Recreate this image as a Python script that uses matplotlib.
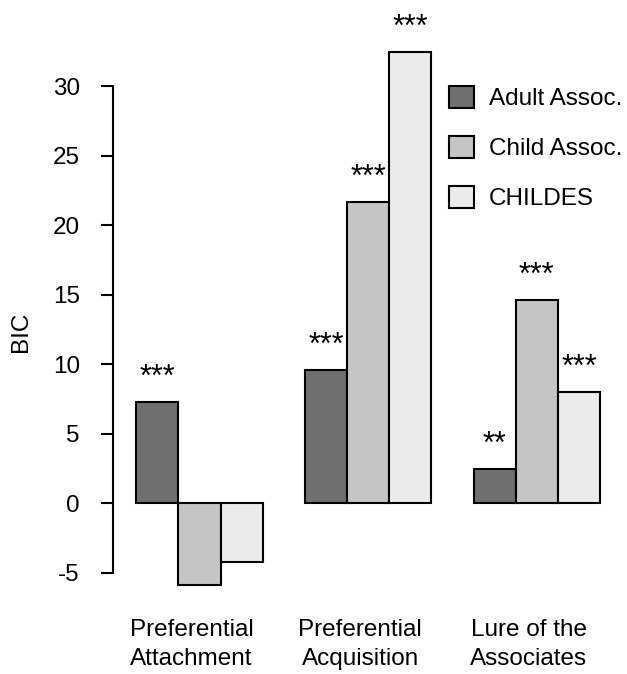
import matplotlib
matplotlib.use("Agg")
import matplotlib.pyplot as plt
import matplotlib.transforms as mtransforms

plt.rcParams['font.family'] = ['Liberation Sans', 'DejaVu Sans']

# data
groups = ["Preferential\nAttachment", "Preferential\nAcquisition", "Lure of the\nAssociates"]
series = ["Adult Assoc.", "Child Assoc.", "CHILDES"]
adult = [7.3, 9.6, 2.5]
child = [-5.85, 21.65, 14.6]
childes = [-4.2, 32.5, 8.0]
stars_adult = ["***", "***", "**"]
stars_child = ["", "***", "***"]
stars_childes = ["", "***", "***"]
yticks = [-5, 0, 5, 10, 15, 20, 25, 30]

colors = ["#6f6f6f", "#c4c5c4", "#ebebeb"]
FS = 17.5

W, H = 627, 674
fig = plt.figure(figsize=(W / 100, H / 100), dpi=100)

def fx(px):
    return px / W

def fy(py):
    return 1 - py / H

# axes placement in pixels
ax_left, ax_right = 113.3, 620.0
ylo, yhi = -7.0, 34.5
zero_px, per_unit = 503.3, 13.9
top_px = zero_px - yhi * per_unit
bot_px = zero_px - ylo * per_unit
ax = fig.add_axes([fx(ax_left), fy(bot_px), fx(ax_right - ax_left), (bot_px - top_px) / H])

unit_px = 42.15
x1_px = 136.3
xlo = 1 - (x1_px - ax_left) / unit_px
xhi = 1 + (ax_right - x1_px) / unit_px
ax.set_xlim(xlo, xhi)
ax.set_ylim(ylo, yhi)

vals = [adult, child, childes]
stars = [stars_adult, stars_child, stars_childes]
for s in range(3):
    lefts = [1 + 4 * g + s for g in range(3)]
    ax.bar(lefts, vals[s], width=1.0, align='edge', color=colors[s],
           edgecolor='black', linewidth=1.5, label=series[s], zorder=2)
    for g in range(3):
        if stars[s][g]:
            ax.annotate(stars[s][g], xy=(lefts[g] + 0.5, vals[s][g]),
                        xytext=(0, 11.5), textcoords='offset points',
                        ha='center', va='baseline', fontsize=22)

# group labels below the plot
lab_tr = mtransforms.blended_transform_factory(ax.transData, fig.transFigure)
for g, name in enumerate(groups):
    ax.text(1 + 4 * g + 1.31, fy(619.5), name, transform=lab_tr,
            ha='center', va='top', fontsize=FS, linespacing=1.36, clip_on=False)

for sp in ["top", "right", "bottom"]:
    ax.spines[sp].set_visible(False)
ax.spines["left"].set_bounds(-5, 30)
ax.spines["left"].set_linewidth(1.5)
ax.set_xticks([])
ax.set_yticks(yticks)
ax.set_yticklabels([str(t) for t in yticks])
ax.tick_params(axis='y', length=9, width=1.5, pad=15, labelsize=FS)

fig.text(fx(21), fy(332), "BIC", rotation=90, ha='center', va='center', fontsize=FS)

ax.legend(loc='upper left', bbox_to_anchor=(fx(449), fy(86)), bbox_transform=fig.transFigure,
          frameon=False, fontsize=FS, handlelength=1.03, handleheight=1.03,
          handletextpad=0.62, labelspacing=1.05, borderaxespad=0, borderpad=0)

fig.savefig("out.png", dpi=100)
